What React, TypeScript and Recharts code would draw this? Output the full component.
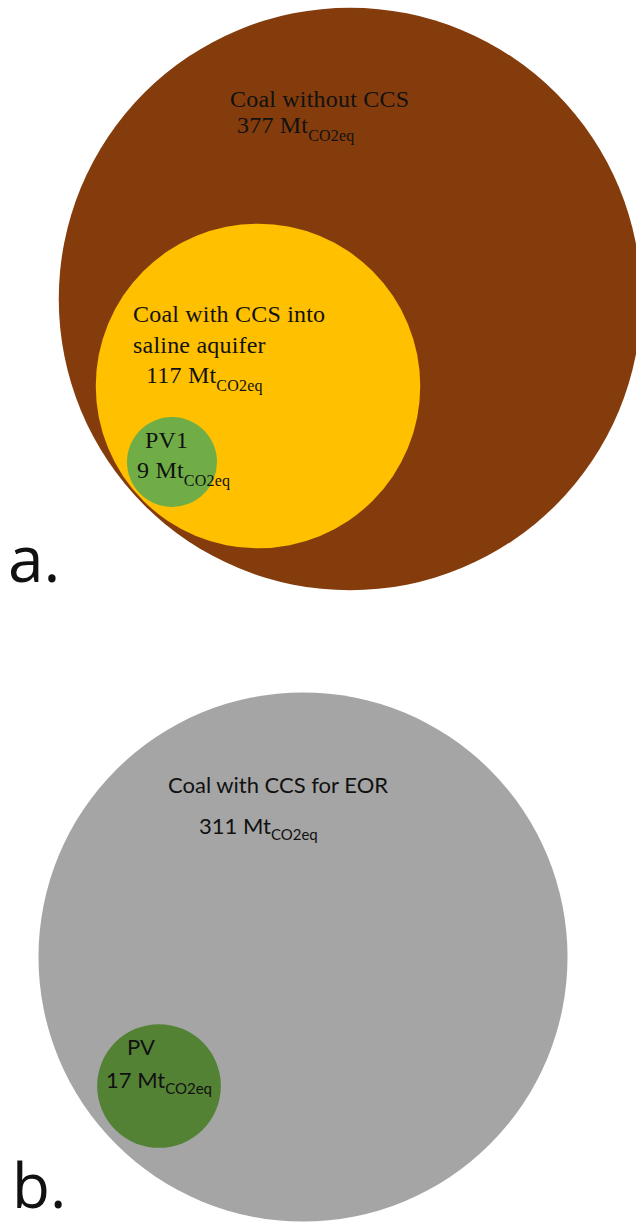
import React from 'react';
import { ScatterChart, Scatter, XAxis, YAxis, ZAxis, Cell, LabelList } from 'recharts';

const CHART_W = 636;
const CHART_H = 1226;

// Life-cycle emissions of each generation option (Mt CO2eq)
const sources = ['Coal without CCS', 'Coal with CCS into saline aquifer', 'PV1', 'Coal with CCS for EOR', 'PV'];
const emissions = [377, 117, 9, 311, 17];
const panelOf = [0, 0, 0, 1, 1];

// Circle centres, in chart units (x to the right, y downwards)
const centreX = [350, 258, 172, 303, 159];
const centreY = [299, 386, 462, 957, 1086];

// Text shown inside each circle
const nameLines = [
  ['Coal without CCS'],
  ['Coal with CCS into', 'saline aquifer'],
  ['PV1'],
  ['Coal with CCS for EOR'],
  ['PV'],
];
const unit = 'Mt';
const unitSub = 'CO2eq';
const panelTags = ['a.', 'b.'];

const fills = ['#843C0C', '#FFC000', '#70AD47', '#A5A5A5', '#548235'];

// Label placement relative to each circle centre (px)
const labelLayout = [
  { nx: -120, ny: -192, vx: -113, vy: -166 },
  { nx: -125, ny: -64, vx: -112, vy: -3 },
  { nx: -27, ny: -14, vx: -35, vy: 16 },
  { nx: -135, ny: -164, vx: -104, vy: -123 },
  { nx: -32, ny: -31, vx: -53, vy: 2 },
];

const panelFonts = [
  { family: "'Liberation Serif', 'Times New Roman', serif", size: 24, sub: 16, subDy: 8, lineH: 31, spacing: 0.2 },
  { family: "Lato, 'Open Sans', sans-serif", size: 22, sub: 15, subDy: 6, lineH: 26, spacing: 0 },
];

// radius = 15 px per sqrt(Mt), i.e. circle area proportional to emissions
const PX_PER_SQRT_MT = 15;
const maxEmission = Math.max(...emissions);

const rows = sources.map((name, i) => ({
  idx: i,
  name,
  x: centreX[i],
  y: centreY[i],
  mt: emissions[i],
}));

const renderLabel = (props: any) => {
  const i = Number(props.value);
  const vb = props.viewBox && props.viewBox.width != null ? props.viewBox : props;
  const cx = vb.x + vb.width / 2;
  const cy = vb.y + vb.height / 2;
  const lay = labelLayout[i];
  const f = panelFonts[panelOf[i]];
  return (
    <g key={`lbl-${i}`}>
      <text
        x={cx + lay.nx}
        y={cy + lay.ny}
        fontFamily={f.family}
        fontSize={f.size}
        letterSpacing={f.spacing}
        fill="#111"
      >
        {nameLines[i].map((line, k) => (
          <tspan key={k} x={cx + lay.nx} dy={k === 0 ? 0 : f.lineH}>
            {line}
          </tspan>
        ))}
      </text>
      <text
        x={cx + lay.vx}
        y={cy + lay.vy}
        fontFamily={f.family}
        fontSize={f.size}
        letterSpacing={f.spacing}
        fill="#111"
      >
        {`${emissions[i]} ${unit}`}
        <tspan fontSize={f.sub} dy={f.subDy}>
          {unitSub}
        </tspan>
      </text>
    </g>
  );
};

export default function App() {
  return (
    <div style={{ position: 'absolute', left: 0, top: 0, width: CHART_W, height: CHART_H, overflow: 'hidden', background: '#fff' }}>
      <ScatterChart width={CHART_W} height={CHART_H} margin={{ top: 0, right: 0, bottom: 0, left: 0 }}>
        <XAxis type="number" dataKey="x" domain={[0, CHART_W]} hide />
        <YAxis type="number" dataKey="y" domain={[0, CHART_H]} reversed hide />
        <ZAxis
          type="number"
          dataKey="mt"
          domain={[0, maxEmission]}
          range={[0, Math.PI * PX_PER_SQRT_MT * PX_PER_SQRT_MT * maxEmission]}
        />
        <Scatter data={rows} isAnimationActive={false}>
          {rows.map((r) => (
            <Cell key={r.idx} fill={fills[r.idx]} />
          ))}
          <LabelList dataKey="idx" content={renderLabel} />
        </Scatter>
        <text x={8} y={582} fontFamily="'Open Sans', sans-serif" fontSize={64} fill="#111">
          {panelTags[0]}
        </text>
        <text x={12} y={1208} fontFamily="'Open Sans', sans-serif" fontSize={62} fill="#111">
          {panelTags[1]}
        </text>
      </ScatterChart>
    </div>
  );
}
